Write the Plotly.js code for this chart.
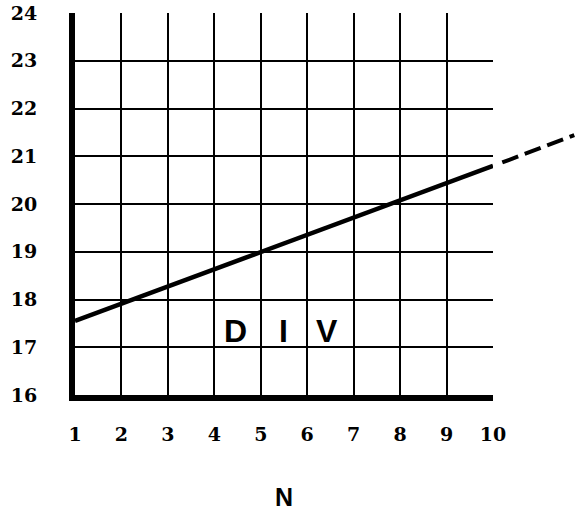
<!DOCTYPE html>
<html>
<head>
<meta charset="utf-8">
<script src="https://cdn.plot.ly/plotly-3.0.1.min.js"></script>
<style>html,body{margin:0;padding:0;background:#fff;}#chart{width:587px;height:514px;}</style>
</head>
<body>
<div id="chart"></div>
<script>
// Data
const nValues = [1, 2, 3, 4, 5, 6, 7, 8, 9, 10];
const divValues = [17.55, 17.91, 18.27, 18.63, 18.99, 19.36, 19.72, 20.08, 20.44, 20.8];
const nExtrap = [10.2, 11.75];
const divExtrap = [20.87, 21.44];
const xTicks = [1, 2, 3, 4, 5, 6, 7, 8, 9, 10];
const yTicks = [16, 17, 18, 19, 20, 21, 22, 23, 24];
const letters = ['D', 'I', 'V'];
const letterN = [4.45, 5.48, 6.42];
const letterDiv = [17.35, 17.35, 17.35];

const W = 587, H = 514;
const margin = {l: 75, r: 8, t: 13, b: 119};
const plotW = W - margin.l - margin.r;
const gridPx = 493 - margin.l;          // pixel width of the 1..10 grid
const xDomainEnd = gridPx / plotW;
const pxPerUnit = gridPx / 9;
const x2Max = 1 + plotW / pxPerUnit;

const tickFont = {family: 'DejaVu Serif', size: 19, color: '#000', weight: 'bold'};

const traces = [
  {x: nValues, y: divValues, type: 'scatter', mode: 'lines',
   line: {color: '#000', width: 4.5}, xaxis: 'x', yaxis: 'y', hoverinfo: 'skip'},
  {x: nExtrap, y: divExtrap, type: 'scatter', mode: 'lines',
   line: {color: '#000', width: 4, dash: '17px,7px'}, xaxis: 'x2', yaxis: 'y2', hoverinfo: 'skip'}
];

const layout = {
  width: W, height: H, margin: margin,
  paper_bgcolor: '#fff', plot_bgcolor: 'rgba(0,0,0,0)',
  showlegend: false,
  xaxis: {
    domain: [0, xDomainEnd], range: [1, 10], anchor: 'y',
    tickmode: 'array', tickvals: xTicks, ticktext: xTicks.map(String),
    showgrid: true, gridcolor: '#000', gridwidth: 2,
    showline: true, linecolor: '#000', linewidth: 6,
    zeroline: false, ticks: '', ticklabelstandoff: 17,
    tickfont: tickFont,
    title: {text: 'N', font: {family: 'Liberation Sans', size: 25, color: '#000', weight: 'bold'}, standoff: 47}
  },
  yaxis: {
    domain: [0, 1], range: [16, 24], anchor: 'x',
    tickmode: 'array', tickvals: yTicks, ticktext: yTicks.map(String),
    showgrid: true, gridcolor: '#000', gridwidth: 2,
    showline: true, linecolor: '#000', linewidth: 6,
    zeroline: false, ticks: '', ticklabelstandoff: 28,
    tickfont: tickFont
  },
  xaxis2: {domain: [0, 1], range: [1, x2Max], anchor: 'y2', visible: false, showgrid: false, zeroline: false},
  yaxis2: {domain: [0, 1], range: [16, 24], anchor: 'x2', visible: false, showgrid: false, zeroline: false},
  annotations: letters.map((t, i) => ({
    x: letterN[i], y: letterDiv[i], xref: 'x', yref: 'y', text: t, showarrow: false,
    font: {family: 'Liberation Sans', size: 32, color: '#000', weight: 'bold'}
  }))
};

Plotly.newPlot('chart', traces, layout, {staticPlot: true, displayModeBar: false});
</script>
</body>
</html>
